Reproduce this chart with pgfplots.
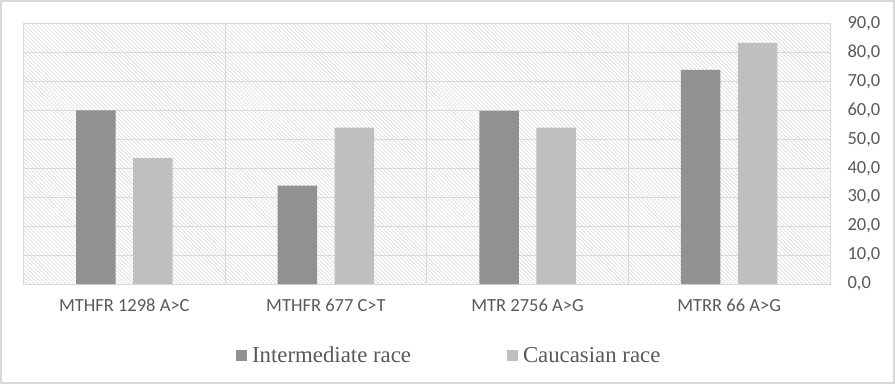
\documentclass[border=0pt]{standalone}
\usepackage{pgfplots}
\pgfplotsset{compat=1.18}
\usepackage{fontspec}
\setmainfont{Carlito}
\newfontfamily\legfont{Liberation Serif}
\usetikzlibrary{patterns.meta}
\definecolor{gridgray}{HTML}{D9D9D9}
\definecolor{txtgray}{HTML}{595959}
\definecolor{darkbar}{HTML}{919191}
\definecolor{lightbar}{HTML}{BFBFBF}
\definecolor{hatch}{HTML}{D6D6D6}
\begin{document}
\begin{tikzpicture}
\draw[gridgray, line width=2pt] (1pt,1pt) rectangle (894pt,383pt);
\begin{axis}[
  at={(23.5pt,100pt)}, anchor=south west,
  scale only axis, width=806.5pt, height=260.5pt,
  xmin=-0.5, xmax=3.5, ymin=0, ymax=90,
  xtick={0,1,2,3},
  xticklabels={MTHFR 1298 A>C, MTHFR 677 C>T, MTR 2756 A>G, MTRR 66 A>G},
  minor xtick={-0.5,0.5,1.5,2.5,3.5},
  xminorgrids, ymajorgrids,
  ytick={0,10,...,90},
  major tick length=0pt, minor tick length=0pt,
  yticklabel pos=right,
  axis line style={draw=gridgray, line width=0.8pt},
  grid style={draw=gridgray, line width=0.8pt},
  minor grid style={draw=gridgray, line width=0.8pt},
  axis background/.style={pattern={Lines[angle=-45, distance=2.8pt, line width=0.55pt]}, pattern color=hatch},
  ticklabel style={font=\fontsize{18.5}{20}\selectfont, text=txtgray},
  yticklabel style={anchor=west, xshift=14pt},
  xticklabel style={yshift=-11pt},
  /pgf/number format/.cd, fixed, fixed zerofill, precision=1, use comma, assume math mode=true,
  /pgfplots/.cd,
  ybar=17.5pt, bar width=39.5pt,
  legend columns=2,
  legend style={at={(0.2597,-0.275)}, anchor=west, draw=none, fill=none,
    font=\legfont\fontsize{22.8}{24}\selectfont, text=txtgray,
    /tikz/every even column/.append style={column sep=94pt},
    nodes={inner sep=2pt}},
  legend cell align=left,
]
\addplot[fill=darkbar, draw=none, legend image code/.code={\fill[darkbar] (0pt,-5.5pt) rectangle (11pt,5.5pt);}]
  coordinates {(0,60.0) (1,34.0) (2,59.8) (3,74.0)};
\addplot[fill=lightbar, draw=none, legend image code/.code={\fill[lightbar] (0pt,-5.5pt) rectangle (11pt,5.5pt);}]
  coordinates {(0,43.5) (1,54.0) (2,54.0) (3,83.3)};
\legend{\hspace{3pt}Intermediate race, \hspace{3pt}Caucasian race}
\end{axis}
\end{tikzpicture}
\end{document}
